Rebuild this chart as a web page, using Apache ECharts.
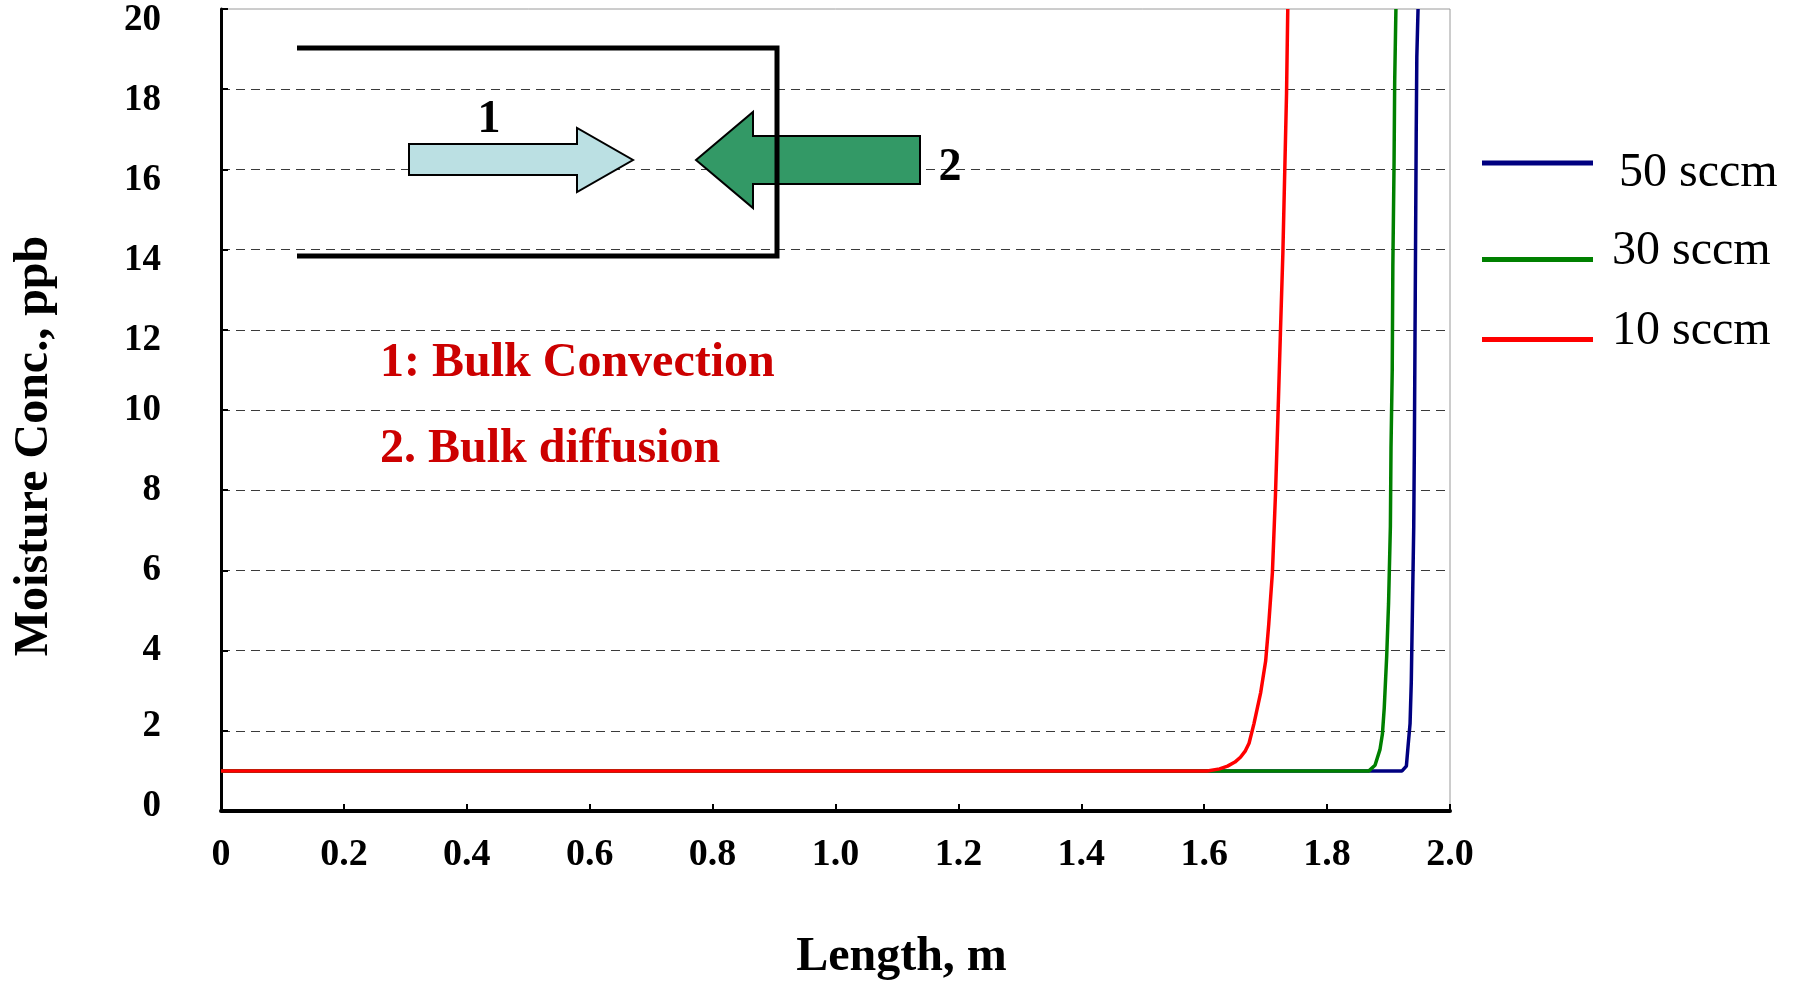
<!DOCTYPE html>
<html>
<head>
<meta charset="utf-8">
<title>Moisture Concentration vs Length</title>
<script src="https://cdn.jsdelivr.net/npm/echarts@6/dist/echarts.min.js"></script>
<style>
  html, body { margin: 0; padding: 0; background: #ffffff; }
  #chart { width: 1797px; height: 981px; }
</style>
</head>
<body>
<div id="chart"></div>
<script>
// Axis tick labels
const xTickLabels = ['0', '0.2', '0.4', '0.6', '0.8', '1.0', '1.2', '1.4', '1.6', '1.8', '2.0'];
const yTickLabels = ['0', '2', '4', '6', '8', '10', '12', '14', '16', '18', '20'];

// Series names
const seriesNames = ['50 sccm', '30 sccm', '10 sccm'];

// 50 sccm profile: length (m) and moisture concentration (ppb)
const len50 = [0, 1.922, 1.929, 1.932, 1.935, 1.937, 1.939, 1.941, 1.942, 1.943, 1.944, 1.945, 1.946, 1.948];
const conc50 = [1.0, 1.0, 1.12, 1.66, 2.18, 3.22, 5.17, 7.1, 9.06, 11.66, 14.26, 16.85, 18.8, 20];

// 30 sccm profile
const len30 = [0, 1.868, 1.878, 1.886, 1.890, 1.893, 1.897, 1.900, 1.903, 1.904, 1.906, 1.907, 1.909, 1.910, 1.912];
const conc30 = [1.0, 1.0, 1.14, 1.53, 1.92, 2.57, 3.87, 5.17, 7.1, 9.06, 11.0, 13.6, 16.2, 18.2, 20];

// 10 sccm profile
const len10 = [0, 1.605, 1.625, 1.638, 1.650, 1.659, 1.667, 1.673, 1.681, 1.692, 1.700, 1.705, 1.711, 1.716, 1.720, 1.724, 1.728, 1.731, 1.734, 1.736];
const conc10 = [1.0, 1.0, 1.05, 1.12, 1.22, 1.34, 1.50, 1.69, 2.18, 2.96, 3.74, 4.65, 5.95, 7.9, 9.84, 11.9, 13.9, 15.9, 17.9, 20];

const seriesColors = ['#000080', '#008000', '#ff0000'];

const SERIF = "'Liberation Serif', 'Times New Roman', serif";

function pairs(xs, ys) {
  return xs.map((x, i) => [x, ys[i]]);
}

const chart = echarts.init(document.getElementById('chart'), null, { renderer: 'canvas' });

// One legend block per series; an empty spacer line above or below nudges the label
function legendFor(name, left, top, padLeft, spacerAbove, spacerBelow) {
  return {
    data: [name],
    orient: 'vertical',
    left: left,
    top: top,
    padding: 0,
    icon: 'rect',
    itemWidth: 111,
    itemHeight: 5,
    selectedMode: false,
    formatter: function (n) {
      let s = '{t|' + n + '}';
      if (spacerAbove) s = '{a| }\n' + s;
      if (spacerBelow) s = s + '\n{b| }';
      return s;
    },
    textStyle: {
      padding: [0, 0, 0, padLeft],
      rich: {
        t: { fontFamily: SERIF, fontSize: 48, lineHeight: 48, color: '#000' },
        a: { fontSize: 8, lineHeight: spacerAbove || 1 },
        b: { fontSize: 8, lineHeight: spacerBelow || 1 }
      }
    }
  };
}

// Upper tick labels sit a little below their ticks, the lowest ones a little above
function yLabel(v) {
  const t = yTickLabels[Math.round(v / 2)];
  if (v >= 12) return '{s| }\n{n|' + t + '}';
  if (v <= 2) return '{n|' + t + '}\n{u| }';
  return '{n|' + t + '}';
}

const option = {
  animation: false,
  backgroundColor: '#ffffff',
  grid: {
    left: 221,
    right: 347,
    top: 9,
    bottom: 170,
    outerBoundsMode: 'none',
    containLabel: false,
    show: true,
    borderColor: '#9a9a9a',
    borderWidth: 1,
    backgroundColor: 'transparent'
  },
  legend: [
    legendFor(seriesNames[0], 1482, 135, 21, 21, 0),
    legendFor(seriesNames[1], 1482, 227, 14, 0, 17),
    legendFor(seriesNames[2], 1482, 307, 14, 0, 17)
  ],
  xAxis: {
    type: 'value',
    min: 0,
    max: 2,
    interval: 0.2,
    name: 'Length, m',
    nameLocation: 'middle',
    nameGap: 123,
    nameTextStyle: {
      fontFamily: SERIF,
      fontSize: 48,
      fontWeight: 'bold',
      color: '#000',
      padding: [0, 0, 0, 132]
    },
    axisLine: { show: true, lineStyle: { color: '#000', width: 4 } },
    axisTick: { show: true, inside: true, length: 7, lineStyle: { color: '#000', width: 2 } },
    axisLabel: {
      margin: 25,
      fontFamily: SERIF,
      fontSize: 38,
      fontWeight: 'bold',
      color: '#000',
      formatter: function (v) { return xTickLabels[Math.round(v / 0.2)]; }
    },
    splitLine: { show: false }
  },
  yAxis: {
    type: 'value',
    min: 0,
    max: 20,
    interval: 2,
    name: 'Moisture Conc., ppb',
    nameLocation: 'middle',
    nameRotate: 90,
    nameGap: 162,
    nameTextStyle: {
      fontFamily: SERIF,
      fontSize: 48,
      fontWeight: 'bold',
      color: '#000',
      padding: [0, 72, 0, 0]
    },
    axisLine: { show: true, lineStyle: { color: '#000', width: 3 } },
    axisTick: { show: true, inside: true, length: 7, lineStyle: { color: '#000', width: 2 } },
    axisLabel: {
      margin: 60,
      formatter: yLabel,
      rich: {
        n: { fontFamily: SERIF, fontSize: 37, fontWeight: 'bold', color: '#000', lineHeight: 37 },
        s: { fontSize: 8, lineHeight: 22 },
        u: { fontSize: 8, lineHeight: 9 }
      }
    },
    splitLine: {
      show: true,
      showMinLine: false,
      showMaxLine: false,
      lineStyle: { color: '#3a3a3a', width: 1, type: [9, 6] }
    }
  },
  series: [
    {
      name: seriesNames[0],
      type: 'line',
      data: pairs(len50, conc50),
      symbol: 'none',
      lineStyle: { color: seriesColors[0], width: 3.5 },
      itemStyle: { color: seriesColors[0] },
      z: 3
    },
    {
      name: seriesNames[1],
      type: 'line',
      data: pairs(len30, conc30),
      symbol: 'none',
      lineStyle: { color: seriesColors[1], width: 3.5 },
      itemStyle: { color: seriesColors[1] },
      z: 4
    },
    {
      name: seriesNames[2],
      type: 'line',
      data: pairs(len10, conc10),
      symbol: 'none',
      lineStyle: { color: seriesColors[2], width: 3.5 },
      itemStyle: { color: seriesColors[2] },
      z: 5
    }
  ],
  graphic: [
    // convection arrow (1)
    {
      type: 'polygon',
      z: 10,
      shape: { points: [[409, 144], [577, 144], [577, 128], [633, 160], [577, 192], [577, 175], [409, 175]] },
      style: { fill: '#bbe0e3', stroke: '#000', lineWidth: 2 }
    },
    // diffusion arrow (2)
    {
      type: 'polygon',
      z: 10,
      shape: { points: [[696, 160], [753, 112], [753, 136], [920, 136], [920, 184], [753, 184], [753, 208]] },
      style: { fill: '#339966', stroke: '#000', lineWidth: 2 }
    },
    // tube outline, open on the left
    {
      type: 'polyline',
      z: 11,
      shape: { points: [[297, 48], [777, 48], [777, 256], [297, 256]] },
      style: { stroke: '#000', lineWidth: 5, fill: null }
    },
    {
      type: 'text',
      z: 12,
      x: 489, y: 120,
      style: { text: '1', font: 'bold 46px ' + SERIF, fill: '#000', align: 'center', verticalAlign: 'middle' }
    },
    {
      type: 'text',
      z: 12,
      x: 950, y: 168,
      style: { text: '2', font: 'bold 46px ' + SERIF, fill: '#000', align: 'center', verticalAlign: 'middle' }
    },
    {
      type: 'text',
      z: 12,
      x: 380, y: 364,
      style: { text: '1: Bulk Convection', font: 'bold 48px ' + SERIF, fill: '#cc0000', align: 'left', verticalAlign: 'middle' }
    },
    {
      type: 'text',
      z: 12,
      x: 380, y: 450,
      style: { text: '2. Bulk diffusion', font: 'bold 48px ' + SERIF, fill: '#cc0000', align: 'left', verticalAlign: 'middle' }
    }
  ]
};

chart.setOption(option);
</script>
</body>
</html>
